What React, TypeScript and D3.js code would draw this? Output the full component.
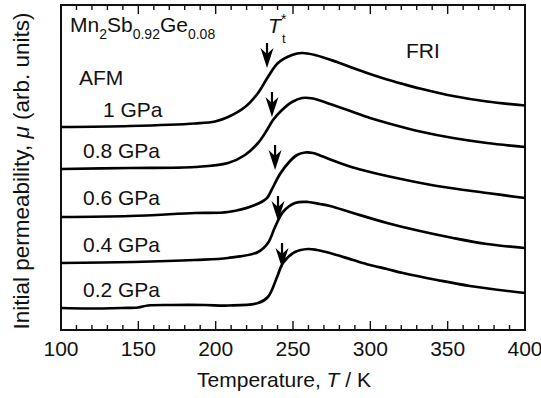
import React from "react";
import * as d3 from "d3";

// ---- data (temperature in K, initial permeability in arb. units, curves offset) ----
const T_1GPa = [100, 144.6, 186.6, 199.6, 208, 219, 227.4, 233.8, 240.3, 249.4, 255.8, 264.2, 278.4, 288.8, 299.8, 310.8, 321.1, 332.1, 353.5, 375.4, 400];
const MU_1GPa = [20.3, 20.4, 20.65, 20.85, 21.3, 22.3, 23.7, 25.3, 26.7, 27.5, 27.7, 27.5, 26.8, 26.2, 25.6, 25.05, 24.6, 24.15, 23.4, 22.85, 22.45];

const T_08GPa = [100, 144.6, 186.6, 208, 219, 227.4, 233.2, 237.1, 242.9, 249.4, 255.8, 262.9, 273.9, 288.8, 299.8, 310.8, 332.1, 353.5, 375.4, 400];
const MU_08GPa = [16.1, 16.2, 16.3, 16.7, 17.5, 18.7, 20.0, 21.0, 22.0, 22.8, 23.2, 23.15, 22.6, 21.8, 21.2, 20.7, 19.85, 19.2, 18.7, 18.3];

const T_06GPa = [100, 144.6, 186.6, 208, 225.4, 233.2, 235.8, 241.6, 248.1, 252.6, 257.8, 262.9, 267.5, 278.4, 288.8, 299.8, 310.8, 343.1, 375.4, 400];
const MU_06GPa = [11.3, 11.4, 11.7, 11.8, 12.5, 13.2, 13.9, 15.6, 16.9, 17.5, 17.75, 17.7, 17.45, 16.8, 16.25, 15.8, 15.4, 14.4, 13.7, 13.2];

const T_04GPa = [100, 146.6, 186.6, 208, 227.4, 233.8, 238.4, 243.5, 251.3, 259.7, 267.5, 273.9, 288.8, 310.8, 332.1, 353.5, 375.4, 400];
const MU_04GPa = [6.7, 6.8, 7.0, 7.2, 7.8, 8.7, 10.3, 11.8, 12.7, 12.8, 12.6, 12.4, 11.7, 10.7, 9.9, 9.2, 8.6, 8.2];

const T_02GPa = [100, 117.5, 139.4, 149.8, 156.2, 171.8, 193.1, 208, 227.4, 233.8, 239.7, 243.5, 251.3, 259.7, 265.5, 273.9, 288.8, 299.8, 310.8, 321.1, 343.1, 364.4, 400];
const MU_02GPa = [2.2, 2.15, 2.2, 2.25, 2.45, 2.5, 2.5, 2.45, 2.7, 3.3, 5.3, 6.7, 7.8, 8.1, 8.0, 7.7, 7.0, 6.5, 6.1, 5.7, 5.0, 4.4, 3.7];

const PRESSURES = ["1 GPa", "0.8 GPa", "0.6 GPa", "0.4 GPa", "0.2 GPa"];
const TT_STAR = [233.2, 236.4, 238.4, 240.3, 242.9];
const TT_MU = [26.2, 21.3, 16.0, 10.9, 6.2];
const X_TICKS = [100, 150, 200, 250, 300, 350, 400];

const W = 541;
const H = 398;
const M = { left: 61, right: 525, top: 5, bottom: 330 };
const FONT = "'Liberation Sans', Arial, Helvetica, sans-serif";

export default function App() {
  const x = d3.scaleLinear().domain([100, 400]).range([M.left, M.right]);
  const y = d3.scaleLinear().domain([0, 32.5]).range([M.bottom, M.top]);
  const line = d3
    .line<[number, number]>()
    .x((d) => x(d[0]))
    .y((d) => y(d[1]))
    .curve(d3.curveCatmullRom.alpha(0.5));

  const series: [number[], number[]][] = [
    [T_1GPa, MU_1GPa],
    [T_08GPa, MU_08GPa],
    [T_06GPa, MU_06GPa],
    [T_04GPa, MU_04GPa],
    [T_02GPa, MU_02GPa],
  ];

  const minor = d3.range(100, 401, 10);
  const labelPos = [
    { x: 103, y: 117 },
    { x: 83, y: 158 },
    { x: 83, y: 205 },
    { x: 83, y: 252 },
    { x: 83, y: 297 },
  ];

  return (
    <svg
      width={W}
      height={H}
      style={{ position: "absolute", left: 0, top: 0, background: "#fff" }}
      fontFamily={FONT}
    >
      <rect x={0} y={0} width={W} height={H} fill="#fff" />
      {/* ticks bottom and top */}
      {minor.map((t) => {
        const major = t % 50 === 0;
        const len = major ? 9 : 5;
        return (
          <g key={t} stroke="#111" strokeWidth={1.4}>
            <line x1={x(t)} x2={x(t)} y1={M.bottom} y2={M.bottom - len} />
            <line x1={x(t)} x2={x(t)} y1={M.top} y2={M.top + len} />
          </g>
        );
      })}
      {/* frame */}
      <rect
        x={M.left}
        y={M.top}
        width={M.right - M.left}
        height={M.bottom - M.top}
        fill="none"
        stroke="#111"
        strokeWidth={2}
      />
      {/* tick labels */}
      {X_TICKS.map((t) => (
        <text key={t} x={x(t)} y={356} fontSize={21} textAnchor="middle" fill="#111">
          {t}
        </text>
      ))}
      {/* axis titles */}
      <text x={284} y={387} fontSize={21} textAnchor="middle" fill="#111">
        Temperature, <tspan fontStyle="italic">T</tspan> / K
      </text>
      <text
        transform="translate(29,171) rotate(-90)"
        fontSize={22.5}
        textAnchor="middle"
        fill="#111"
      >
        Initial permeability, <tspan fontStyle="italic">μ</tspan> (arb. units)
      </text>
      {/* curves */}
      {series.map(([ts, mus], i) => (
        <path
          key={i}
          d={line(ts.map((t, j) => [t, mus[j]] as [number, number])) || ""}
          fill="none"
          stroke="#000"
          strokeWidth={2.7}
          strokeLinejoin="round"
        />
      ))}
      {/* arrows at T_t* */}
      {TT_STAR.map((t, i) => {
        const ax = x(t);
        const tip = y(TT_MU[i]);
        const top = tip - 25;
        return (
          <g key={i}>
            <line x1={ax} x2={ax} y1={top} y2={tip - 8} stroke="#000" strokeWidth={2.2} />
            <path
              d={`M${ax},${tip} L${ax - 6.5},${tip - 20} L${ax},${tip - 14} L${ax + 6.5},${tip - 20} Z`}
              fill="#000"
            />
          </g>
        );
      })}
      {/* labels */}
      <text x={70} y={32} fontSize={21} fill="#111">
        Mn
        <tspan fontSize={14} dy={7}>2</tspan>
        <tspan dy={-7}>Sb</tspan>
        <tspan fontSize={14} dy={7}>0.92</tspan>
        <tspan dy={-7}>Ge</tspan>
        <tspan fontSize={14} dy={7}>0.08</tspan>
      </text>
      <text x={79} y={85} fontSize={21} fill="#111">
        AFM
      </text>
      <text x={406} y={58} fontSize={21} fill="#111">
        FRI
      </text>
      <text x={268} y={33} fontSize={21} fill="#111" fontStyle="italic">
        T
      </text>
      <text x={281} y={24} fontSize={14} fill="#111">
        *
      </text>
      <text x={282} y={43} fontSize={13} fill="#111">
        t
      </text>
      {PRESSURES.map((p, i) => (
        <text key={p} x={labelPos[i].x} y={labelPos[i].y} fontSize={21} fill="#111">
          {p}
        </text>
      ))}
    </svg>
  );
}
